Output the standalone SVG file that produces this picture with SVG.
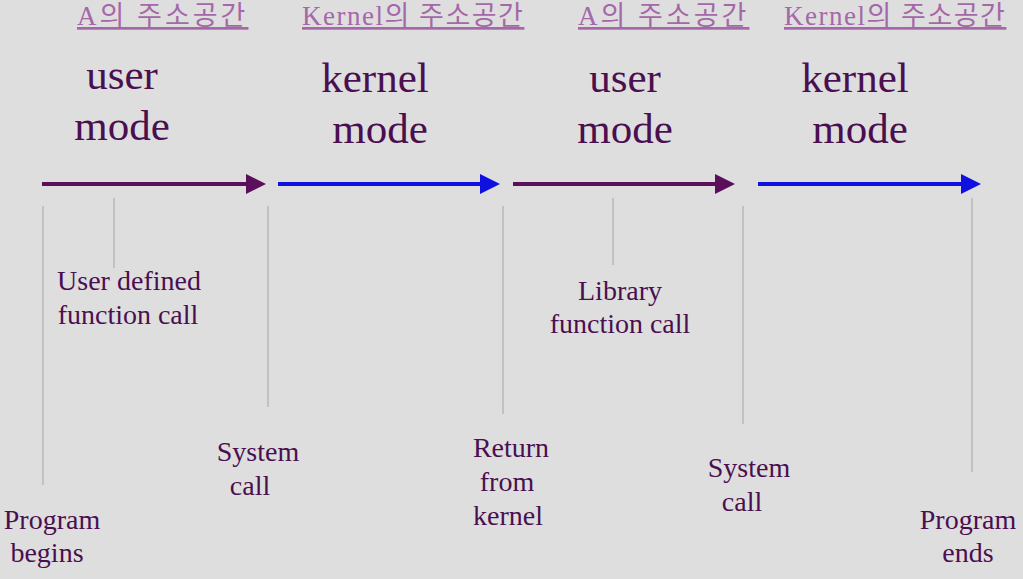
<svg xmlns="http://www.w3.org/2000/svg" width="1023" height="579" viewBox="0 0 1023 579">
<style>
.hd{font-family:"Liberation Serif","Noto Sans CJK KR",serif;font-size:27px;fill:#a468a8;text-decoration:underline;letter-spacing:3px}
.md{font-family:"Liberation Serif",serif;font-size:43px;fill:#4a0f4f;text-anchor:middle}
.lb{font-family:"Liberation Serif",serif;font-size:28px;fill:#4a0f4f;text-anchor:middle}
.vl{stroke:#b8b8b8;stroke-width:1.5}
</style>
<defs>
<marker id="ap" markerWidth="5" markerHeight="5" refX="4" refY="2.5" orient="auto" markerUnits="strokeWidth"><path d="M0,0L5,2.5L0,5z" fill="#5a0f5a"/></marker>
<marker id="ab" markerWidth="5" markerHeight="5" refX="4" refY="2.5" orient="auto" markerUnits="strokeWidth"><path d="M0,0L5,2.5L0,5z" fill="#1010e0"/></marker>
</defs>
<rect width="1023" height="579" fill="#dfdedf"/>
<g id="headers">
<text class="hd" x="77" y="25">A의 주소공간</text>
<text class="hd" x="302" y="25" style="letter-spacing:1.5px">Kernel의 주소공간</text>
<text class="hd" x="578" y="25">A의 주소공간</text>
<text class="hd" x="784" y="25" style="letter-spacing:1.5px">Kernel의 주소공간</text>
</g>
<g id="modes">
<text class="md" x="122" y="89">user</text><text class="md" x="122" y="140">mode</text>
<text class="md" x="375" y="92">kernel</text><text class="md" x="380" y="143">mode</text>
<text class="md" x="625" y="92">user</text><text class="md" x="625" y="143">mode</text>
<text class="md" x="855" y="92">kernel</text><text class="md" x="860" y="143">mode</text>
</g>
<g id="connectors">
<line x1="42" y1="184" x2="262" y2="184" stroke="#5a0f5a" stroke-width="4" marker-end="url(#ap)"/>
<line x1="278" y1="184" x2="496" y2="184" stroke="#1010e0" stroke-width="4" marker-end="url(#ab)"/>
<line x1="513" y1="184" x2="731" y2="184" stroke="#5a0f5a" stroke-width="4" marker-end="url(#ap)"/>
<line x1="758" y1="184" x2="977" y2="184" stroke="#1010e0" stroke-width="4" marker-end="url(#ab)"/>
<line class="vl" x1="43" y1="206" x2="43" y2="485"/>
<line class="vl" x1="114" y1="198" x2="114" y2="268"/>
<line class="vl" x1="268" y1="206" x2="268" y2="407"/>
<line class="vl" x1="503" y1="206" x2="503" y2="414"/>
<line class="vl" x1="613" y1="198" x2="613" y2="265"/>
<line class="vl" x1="743" y1="206" x2="743" y2="424"/>
<line class="vl" x1="972" y1="198" x2="972" y2="472"/>
</g>
<g id="labels">
<text class="lb" x="129" y="290">User defined</text><text class="lb" x="128" y="324">function call</text>
<text class="lb" x="620" y="300">Library</text><text class="lb" x="620" y="333">function call</text>
<text class="lb" x="258" y="461">System</text><text class="lb" x="250" y="495">call</text>
<text class="lb" x="511" y="457">Return</text><text class="lb" x="507" y="491">from</text><text class="lb" x="508" y="525">kernel</text>
<text class="lb" x="749" y="477">System</text><text class="lb" x="742" y="511">call</text>
<text class="lb" x="52" y="529">Program</text><text class="lb" x="47" y="562">begins</text>
<text class="lb" x="968" y="529">Program</text><text class="lb" x="968" y="562">ends</text>
</g>
</svg>
